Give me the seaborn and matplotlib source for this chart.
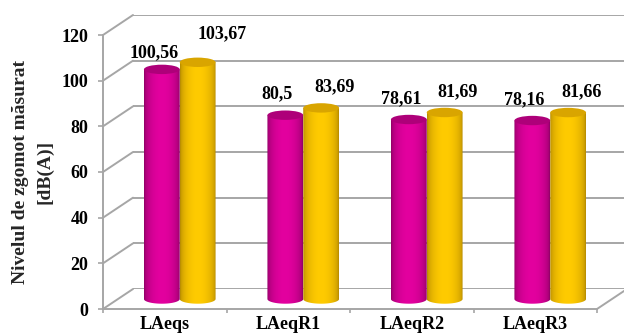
import numpy as np
import pandas as pd
import matplotlib
matplotlib.use("Agg")
import matplotlib.pyplot as plt
import seaborn as sns
from matplotlib.patches import Ellipse, ConnectionPatch
from matplotlib.path import Path
from matplotlib.colors import to_rgb

# ---- data -------------------------------------------------------------
categories = ["LAeqs", "LAeqR1", "LAeqR2", "LAeqR3"]
series_ids = ["s1", "s2"]
values_s1 = [100.56, 80.5, 78.61, 78.16]
values_s2 = [103.67, 83.69, 81.69, 81.66]
y_ticks = [0, 20, 40, 60, 80, 100, 120]
y_label = "Nivelul de zgomot măsurat\n[dB(A)]"

# ---- style ------------------------------------------------------------
SERIF = "Liberation Serif"
GRID = "#A6A6A6"
LIGHT = [to_rgb("#E3009F"), to_rgb("#FFCB00")]
DARK = [to_rgb("#7E005A"), to_rgb("#A67C00")]
TOP = [to_rgb("#AE0079"), to_rgb("#D9A500")]
# label offsets (pixels) relative to the top of each cylinder
LABEL_DX = [-8, 13]
LABEL_DY = [21, 21]
LABEL_NUDGE = {(0, 0): (0, -4), (0, 1): (11, 8)}

W, H = 624, 336
Y_SCALE = 274 / 120.0          # pixels per dB
RY = 4.7 / Y_SCALE             # half height of the cylinder ellipses (dB units)
Y_LOW = -6.0                   # room under the bar axis for the bottom ellipses

sns.set_theme(style="white")
plt.rcParams["font.family"] = [SERIF, "DejaVu Serif"]

fig = plt.figure(figsize=(W / 100, H / 100), dpi=100)
fig.patch.set_facecolor("white")


def px_rect(left, top, right, bottom):
    return [left / W, 1 - bottom / H, (right - left) / W, (bottom - top) / H]


# back wall, mid plane (bars) and front plane share the same scales,
# each one shifted along the depth direction
ax_back = fig.add_axes(px_rect(133, 15, 627, 289))
ax_front = fig.add_axes(px_rect(103, 35, 597, 309))
ax_bar = fig.add_axes(px_rect(118, 25, 612, 299 - Y_LOW * Y_SCALE))
ax_back.set_zorder(0)
ax_front.set_zorder(1)
ax_bar.set_zorder(2)

for ax in (ax_back, ax_front, ax_bar):
    ax.set_facecolor("none")
    ax.set_xlim(-0.5, 3.5)
ax_back.set_ylim(0, 120)
ax_front.set_ylim(0, 120)
ax_bar.set_ylim(Y_LOW, 120)

# back wall gridlines
ax_back.hlines(y_ticks, -0.5, 3.5, color=GRID, lw=1.4)
ax_back.axis("off")

# side wall and floor edges joining front and back planes
for v in y_ticks:
    fig.add_artist(ConnectionPatch(xyA=(-0.5, v), coordsA="data", axesA=ax_front,
                                   xyB=(-0.5, v), coordsB="data", axesB=ax_back,
                                   color=GRID, lw=1.4))
fig.add_artist(ConnectionPatch(xyA=(3.5, 0), coordsA="data", axesA=ax_front,
                               xyB=(3.5, 0), coordsB="data", axesB=ax_back,
                               color=GRID, lw=1.4))

# front axes: value axis and category axis
for side in ("top", "right"):
    ax_front.spines[side].set_visible(False)
for side in ("left", "bottom"):
    ax_front.spines[side].set_color(GRID)
    ax_front.spines[side].set_linewidth(1.4)
ax_front.set_yticks(y_ticks)
ax_front.set_yticklabels([str(t) for t in y_ticks])
ax_front.tick_params(axis="y", length=3.6, width=1.2, color=GRID, pad=7,
                     labelsize=13, labelcolor="black", left=True)
ax_front.set_xticks([-0.5, 0.5, 1.5, 2.5, 3.5])
ax_front.set_xticklabels([])
ax_front.set_xticks(range(len(categories)), minor=True)
ax_front.set_xticklabels(categories, minor=True)
ax_front.tick_params(axis="x", which="major", length=3, width=1.2, color=GRID, bottom=True)
ax_front.tick_params(axis="x", which="minor", length=0, pad=5, labelsize=13,
                     labelcolor="black")
for lab in ax_front.get_yticklabels() + ax_front.get_xticklabels(minor=True):
    lab.set_fontweight("bold")
ax_front.set_ylabel(y_label, fontsize=14, fontweight="bold", linespacing=1.55)
ax_front.yaxis.label.set_va("center")
ax_front.yaxis.set_label_coords((33 - 103) / 494, 0.5)
ax_front.grid(False)

# bars through seaborn, then rendered as shaded cylinders
df = pd.DataFrame({
    "categorie": categories * 2,
    "nivel": values_s1 + values_s2,
    "serie": [series_ids[0]] * len(categories) + [series_ids[1]] * len(categories),
})
sns.barplot(data=df, x="categorie", y="nivel", hue="serie", hue_order=series_ids,
            palette=["#E3009F", "#FFCB00"], width=0.58, gap=0, dodge=True,
            errorbar=None, legend=False, saturation=1, ax=ax_bar)
ax_bar.set_xlim(-0.5, 3.5)
ax_bar.set_ylim(Y_LOW, 120)
ax_bar.axis("off")


def draw_cylinder(ax, x0, w, h, s, z):
    cx = x0 + w / 2
    t = np.linspace(0, 1, 256)
    f = np.clip(np.sin(np.pi * t), 0, 1) ** 0.4
    light, dark = np.array(LIGHT[s]), np.array(DARK[s])
    cols = dark[None, :] + (light - dark)[None, :] * f[:, None]
    im = ax.imshow(cols[None, :, :], extent=(x0, x0 + w, -RY, h), aspect="auto",
                   origin="lower", interpolation="bilinear", zorder=z)
    theta = np.linspace(0, -np.pi, 60)
    verts = [(x0, h), (x0 + w, h)] + [(cx + w / 2 * np.cos(a), RY * np.sin(a)) for a in theta]
    verts.append((x0, h))
    im.set_clip_path(Path(verts, closed=True), transform=ax.transData)
    ax.add_patch(Ellipse((cx, h), w, 2 * RY, facecolor=TOP[s], edgecolor="none", zorder=z + 0.5))


values = [values_s1, values_s2]
bars = list(ax_bar.patches)
n = len(categories)
for k, bar in enumerate(bars):
    s, i = divmod(k, n)
    x0, w, h = bar.get_x(), bar.get_width(), bar.get_height()
    bar.set_visible(False)
    draw_cylinder(ax_bar, x0, w, h, s, 3 + 2 * s)
    dx, dy = LABEL_DX[s], LABEL_DY[s]
    ndx, ndy = LABEL_NUDGE.get((i, s), (0, 0))
    txt = f"{values[s][i]:g}".replace(".", ",")
    ax_bar.annotate(txt, xy=(x0 + w / 2, h), xytext=((dx + ndx) * 0.72, (dy + ndy) * 0.72),
                    textcoords="offset points", ha="center", va="center",
                    fontsize=13, fontweight="bold", color="black", zorder=10,
                    annotation_clip=False)
ax_bar.set_xlim(-0.5, 3.5)
ax_bar.set_ylim(Y_LOW, 120)

fig.savefig("out.png", dpi=100, facecolor="white")
